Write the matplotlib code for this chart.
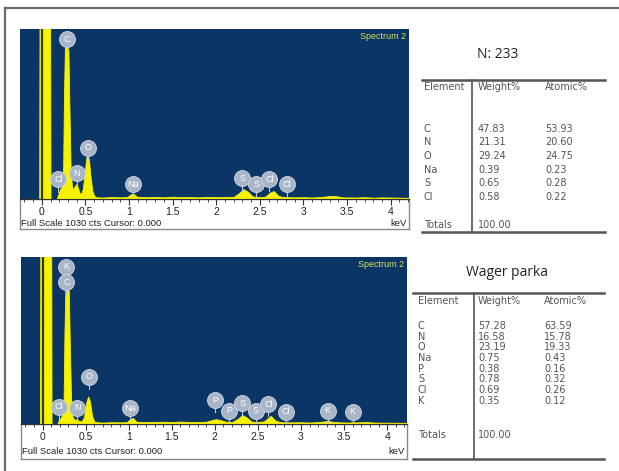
import matplotlib.pyplot as plt
import numpy as np

W, H = 619, 471

# --- spectrum 1 (N: 233) : energy (keV) / counts ---
energy_1 = [-0.25, -0.03, -0.025, 0.095, 0.10, 0.17, 0.19, 0.21, 0.23, 0.245, 0.255, 0.265,
            0.285, 0.305, 0.315, 0.33, 0.345, 0.36, 0.38, 0.395, 0.41, 0.43, 0.45, 0.47,
            0.49, 0.51, 0.525, 0.54, 0.56, 0.58, 0.60, 0.63, 0.7, 0.8, 0.9, 0.98, 1.02,
            1.05, 1.09, 1.2, 1.3, 1.4, 1.5, 1.6, 1.7, 1.8, 1.9, 2.0, 2.1, 2.2, 2.26, 2.31,
            2.36, 2.42, 2.5, 2.56, 2.62, 2.66, 2.71, 2.76, 2.9, 3.0, 3.1, 3.2, 3.3, 3.38,
            3.45, 3.6, 3.7, 3.8, 3.9, 4.0, 4.1, 4.21]
counts_1 = [0, 0, 1400, 1400, 0, 0, 30, 60, 75, 200, 650, 920,
            935, 900, 600, 200, 80, 55, 80, 90, 75, 40, 30, 60,
            150, 250, 265, 240, 130, 50, 20, 10, 9, 12, 10, 12, 28,
            32, 14, 11, 13, 10, 14, 11, 12, 10, 13, 11, 12, 13, 35, 60,
            45, 15, 12, 14, 40, 48, 20, 12, 10, 11, 9, 12, 18, 17,
            10, 9, 11, 8, 10, 9, 8, 7]
labels_1 = ['C', 'Cl', 'N', 'O', 'Na', 'S', 'S', 'Cl', 'Cl']
label_e_1 = [0.286, 0.19, 0.40, 0.527, 1.04, 2.30, 2.46, 2.61, 2.81]
label_c_1 = [967, 120, 157, 311, 90, 125, 89, 121, 89]

# --- spectrum 2 (Wager parka) ---
energy_2 = [-0.25, -0.03, -0.025, 0.10, 0.105, 0.17, 0.19, 0.22, 0.245, 0.255, 0.265, 0.285,
            0.305, 0.315, 0.33, 0.345, 0.37, 0.395, 0.42, 0.45, 0.48, 0.505, 0.53, 0.55,
            0.575, 0.60, 0.65, 0.7, 0.8, 0.9, 0.98, 1.02, 1.05, 1.09, 1.2, 1.3, 1.4, 1.5,
            1.6, 1.7, 1.8, 1.9, 1.95, 2.01, 2.06, 2.12, 2.2, 2.26, 2.32, 2.37, 2.43, 2.5,
            2.57, 2.62, 2.65, 2.7, 2.76, 2.9, 3.0, 3.1, 3.2, 3.26, 3.31, 3.36, 3.45, 3.55,
            3.6, 3.65, 3.75, 3.85, 3.95, 4.05, 4.23]
counts_2 = [0, 0, 1400, 1400, 0, 0, 25, 45, 160, 580, 830, 845,
            820, 540, 170, 50, 25, 30, 20, 15, 40, 130, 170, 140,
            50, 15, 10, 9, 11, 10, 12, 32, 37, 14, 12, 13, 14, 12,
            15, 13, 12, 14, 22, 30, 25, 15, 12, 30, 55, 40, 14, 12,
            16, 38, 50, 22, 12, 10, 11, 9, 12, 15, 20, 14, 10, 9,
            11, 10, 12, 9, 8, 8, 7]
labels_2 = ['K', 'C', 'Cl', 'N', 'O', 'Na', 'P', 'P', 'S', 'S', 'Cl', 'Cl', 'K', 'K']
label_e_2 = [0.278, 0.278, 0.19, 0.40, 0.54, 1.02, 2.0, 2.165, 2.32, 2.475, 2.62, 2.82, 3.31, 3.60]
label_c_2 = [971, 874, 107, 101, 292, 97, 148, 82, 128, 82, 123, 76, 82, 76]

# --- quantification tables ---
elements_1 = ['C', 'N', 'O', 'Na', 'S', 'Cl']
weight_1 = ['47.83', '21.31', '29.24', '0.39', '0.65', '0.58']
atomic_1 = ['53.93', '20.60', '24.75', '0.23', '0.28', '0.22']
elements_2 = ['C', 'N', 'O', 'Na', 'P', 'S', 'Cl', 'K']
weight_2 = ['57.28', '16.58', '23.19', '0.75', '0.38', '0.78', '0.69', '0.35']
atomic_2 = ['63.59', '15.78', '19.33', '0.43', '0.16', '0.32', '0.26', '0.12']

BLUE = '#0b3565'
YELLOW = '#f6f200'
GREY = '#555555'

fig = plt.figure(figsize=(W / 100, H / 100), dpi=100)


def box(x0, y0, x1, y1):
    return [x0 / W, 1 - y1 / H, (x1 - x0) / W, (y1 - y0) / H]


def spectrum(x0, y0, x1, y1, y2, xmax, energy, counts, labels, lab_e, lab_c):
    # white strip with the energy scale
    sx = fig.add_axes(box(x0, y1, x1, y2), zorder=1)
    sx.set_xticks([])
    sx.set_yticks([])
    for s in sx.spines.values():
        s.set_color('#8a8a8a')
        s.set_linewidth(1)
    sx.text(0.003, 0.2, 'Full Scale 1030 cts Cursor: 0.000', transform=sx.transAxes,
            fontsize=6.8, family='Liberation Sans', color='#222222', va='center')
    sx.text(0.995, 0.2, 'keV', transform=sx.transAxes, ha='right',
            fontsize=6.8, family='Liberation Sans', color='#222222', va='center')

    ax = fig.add_axes(box(x0, y0, x1, y1), zorder=2)
    ax.set_facecolor(BLUE)
    ax.fill_between(energy, counts, color=YELLOW, lw=0.6, edgecolor=YELLOW)
    ax.axvline(0.0, color='#2b3a20', lw=1.6)
    ax.set_xlim(-0.25, xmax)
    ax.set_ylim(0, 1030)
    for side in ['top', 'left', 'right']:
        ax.spines[side].set_visible(False)
    ax.spines['bottom'].set_color('#333333')
    ax.set_yticks([])
    ticks = np.arange(0, 4.01, 0.5)
    ax.set_xticks(ticks)
    ax.set_xticklabels(['%g' % t for t in ticks], fontsize=7.5, family='Liberation Sans',
                       color='#222222')
    ax.set_xticks(np.arange(-0.2, xmax, 0.1), minor=True)
    ax.tick_params(axis='x', which='major', length=4, width=0.8, color='#333333', pad=2)
    ax.tick_params(axis='x', which='minor', length=2, width=0.6, color='#333333')

    # element markers
    for name, e, c in zip(labels, lab_e, lab_c):
        ax.plot([e, e], [c, c - 75], color='#c0c8d4', lw=0.8, zorder=3)
        ax.plot(e, c, 'o', ms=11.5, mfc='#a9b5c8', mec='#d0d6e0', mew=0.6, zorder=4)
        ax.text(e, c, name, ha='center', va='center', fontsize=6.5, color='white',
                family='Liberation Sans', zorder=5)
    ax.text(0.992, 0.955, 'Spectrum 2', transform=ax.transAxes, ha='right', va='center',
            fontsize=6.5, family='Liberation Sans', color='#d4e35a')
    return ax


spectrum(20, 29, 409, 199, 229, 4.21, energy_1, counts_1, labels_1, label_e_1, label_c_1)
spectrum(21, 257, 407, 424, 459, 4.23, energy_2, counts_2, labels_2, label_e_2, label_c_2)

# overlay in pixel coordinates for the frame and the tables
ov = fig.add_axes([0, 0, 1, 1], zorder=0)
ov.set_xlim(0, W)
ov.set_ylim(H, 0)
ov.axis('off')
ov.plot([4.5, W + 5], [7.5, 7.5], color='#6a6a6a', lw=1.6, clip_on=False)
ov.plot([4.5, 4.5], [7.5, H + 5], color='#6a6a6a', lw=1.6, clip_on=False)


def table(title, tx, ty, xl, xr, xv, top, bottom, hy, rows_y0, dy, ty_tot,
          cx, elements, weight, atomic):
    ov.text(tx, ty, title, ha='center', va='center', fontsize=10, family='Open Sans',
            color='#222222')
    ov.plot([xl, xr], [top, top], color=GREY, lw=1.8)
    ov.plot([xl, xr], [bottom, bottom], color=GREY, lw=1.8)
    ov.plot([xv, xv], [top, bottom], color=GREY, lw=1.2)
    kw = dict(fontsize=7, family='DejaVu Sans', color='#555555', va='center')
    ov.text(cx[0], hy, 'Element', **kw)
    ov.text(cx[1], hy, 'Weight%', **kw)
    ov.text(cx[2], hy, 'Atomic%', **kw)
    for i, (el, w, a) in enumerate(zip(elements, weight, atomic)):
        y = rows_y0 + i * dy
        ov.text(cx[0], y, el, **kw)
        ov.text(cx[1], y, w, **kw)
        ov.text(cx[2], y, a, **kw)
    ov.text(cx[0], ty_tot, 'Totals', **kw)
    ov.text(cx[1], ty_tot, '100.00', **kw)


table('N: 233', 498, 55, 422, 605, 472, 80, 232, 87.5, 128.5, 13.7, 225,
      [424, 478, 545], elements_1, weight_1, atomic_1)
table('Wager parka', 507, 273, 413, 604, 473.5, 293, 458.5, 301, 326, 10.7, 434.5,
      [418, 478, 544], elements_2, weight_2, atomic_2)

fig.savefig('out.png', dpi=100)
